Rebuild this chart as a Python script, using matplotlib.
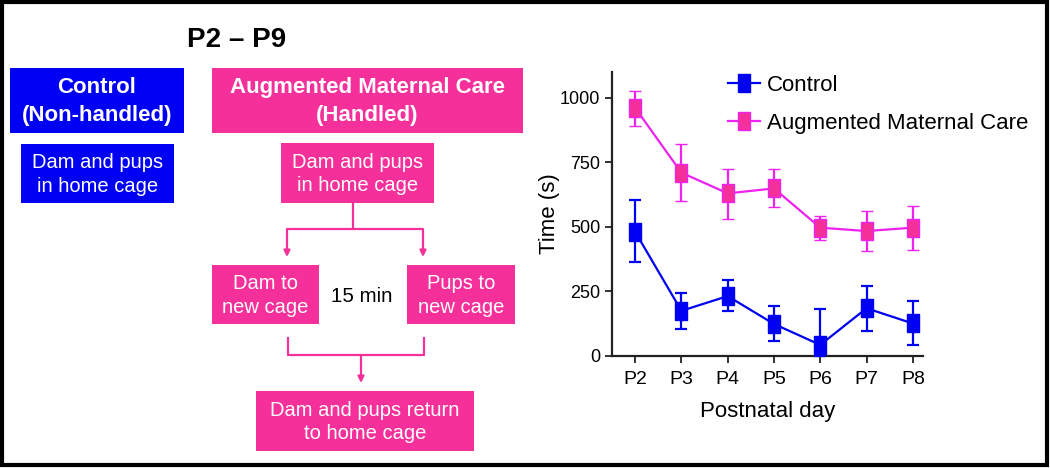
import numpy as np
import matplotlib
matplotlib.use("Agg")
import matplotlib.pyplot as plt
from matplotlib.patches import Rectangle
from matplotlib.lines import Line2D

plt.rcParams['font.family'] = ['Liberation Sans', 'DejaVu Sans']

# data
days = ['P2', 'P3', 'P4', 'P5', 'P6', 'P7', 'P8']
ctrl_mean = [481, 175, 232, 124, 43, 185, 126]
ctrl_hi = [604, 245, 294, 194, 183, 272, 214]
ctrl_lo = [363, 103, 174, 58, 0, 97, 41]
amc_mean = [961, 710, 630, 649, 497, 484, 497]
amc_hi = [1027, 821, 724, 724, 543, 561, 582]
amc_lo = [892, 600, 530, 578, 449, 406, 410]
yticks = [0, 250, 500, 750, 1000]

BLUE = '#0000f2'
PINK = '#f5309a'
MAG = '#ee22ee'
W, H = 1050, 468

fig = plt.figure(figsize=(W / 100, H / 100), dpi=100)

# overlay in pixel coords for the diagram
ov = fig.add_axes([0, 0, 1, 1])
ov.set_xlim(0, W)
ov.set_ylim(H, 0)
ov.axis('off')

def box(x0, y0, x1, y1, color, text, size, bold=False, ls=1.3):
    ov.add_patch(Rectangle((x0, y0), x1 - x0, y1 - y0, facecolor=color, edgecolor='none'))
    ov.text((x0 + x1) / 2, (y0 + y1) / 2 + 1, text, color='white', fontsize=size,
            fontweight='bold' if bold else 'normal', ha='center', va='center',
            linespacing=ls)

ov.text(237, 40, 'P2 – P9', fontsize=20, fontweight='bold', ha='center', va='center')
box(10, 68, 184, 133, BLUE, 'Control\n(Non-handled)', 16, True, 1.4)
box(21, 144, 174, 203, BLUE, 'Dam and pups\nin home cage', 14.5)
box(212, 68, 523, 133, PINK, 'Augmented Maternal Care\n(Handled)', 16, True, 1.4)
box(281, 143, 434, 203, PINK, 'Dam and pups\nin home cage', 14.5)
box(212, 265, 319, 324, PINK, 'Dam to\nnew cage', 14.5)
box(407, 265, 515, 324, PINK, 'Pups to\nnew cage', 14.5)
box(256, 391, 474, 451, PINK, 'Dam and pups return\nto home cage', 14.5)
ov.text(362, 296, '15 min', fontsize=14.8, ha='center', va='center')

# connectors
lk = dict(color=PINK, lw=1.6, solid_capstyle='butt')
ov.plot([353, 353], [203, 229], **lk)
ov.plot([287, 423], [229, 229], **lk)
ov.plot([288, 288, 424, 424], [337, 355, 355, 337], **lk)
ap = dict(arrowstyle='-|>', color=PINK, lw=1.6, mutation_scale=9, shrinkA=0, shrinkB=0)
ov.annotate('', xy=(287, 257), xytext=(287, 229), arrowprops=ap)
ov.annotate('', xy=(423, 257), xytext=(423, 229), arrowprops=ap)
ov.annotate('', xy=(361, 383), xytext=(361, 355), arrowprops=ap)

# black frame around the figure
ov.add_patch(Rectangle((1.5, 1.5), W - 5, H - 5, facecolor='none', edgecolor='black', lw=3))

# chart
ax = fig.add_axes([612 / W, (H - 356) / H, (923 - 612) / W, (356 - 72) / H])
x = np.arange(len(days))
rect = [(-0.36, -0.5), (0.36, -0.5), (0.36, 0.5), (-0.36, 0.5), (-0.36, -0.5)]

ce = [np.subtract(ctrl_mean, ctrl_lo), np.subtract(ctrl_hi, ctrl_mean)]
ae = [np.subtract(amc_mean, amc_lo), np.subtract(amc_hi, amc_mean)]
ax.errorbar(x, amc_mean, yerr=ae, color=MAG, lw=1.6, elinewidth=1.6, capsize=4,
            capthick=1.6, marker=rect, markersize=12.5, markerfacecolor=PINK,
            markeredgecolor=MAG, markeredgewidth=1, zorder=3)
ax.errorbar(x, ctrl_mean, yerr=ce, color=BLUE, lw=1.6, elinewidth=1.6, capsize=4,
            capthick=1.6, marker=rect, markersize=12.5, markerfacecolor=BLUE,
            markeredgecolor=BLUE, zorder=3, clip_on=False)

ax.set_xlim(-0.5, 6.22)
ax.set_ylim(0, 1100)
ax.set_xticks(x)
ax.set_xticklabels(days)
ax.set_yticks(yticks)
ax.tick_params(axis='both', labelsize=13, width=1.3, length=5, color='#222222')
ax.tick_params(axis='x', labelsize=14, pad=6)
for s in ['top', 'right']:
    ax.spines[s].set_visible(False)
for s in ['left', 'bottom']:
    ax.spines[s].set_linewidth(1.6)
    ax.spines[s].set_color('#222222')
ax.set_ylabel('Time (s)', fontsize=16, labelpad=0)
ax.set_xlabel('Postnatal day', fontsize=16, labelpad=9)

handles = [Line2D([], [], color=BLUE, lw=1.6, marker=rect, markersize=12.5,
                  markerfacecolor=BLUE, markeredgecolor=BLUE),
           Line2D([], [], color=MAG, lw=1.6, marker=rect, markersize=12.5,
                  markerfacecolor=PINK, markeredgecolor=MAG, markeredgewidth=1)]
ax.legend(handles, ['Control', 'Augmented Maternal Care'], loc='upper left',
          bbox_to_anchor=(728 / W, (H - 75) / H), bbox_transform=fig.transFigure,
          frameon=False, fontsize=16, handlelength=1.45, handletextpad=0.3,
          labelspacing=0.75, borderpad=0, borderaxespad=0)

fig.savefig('out.png', dpi=100)
